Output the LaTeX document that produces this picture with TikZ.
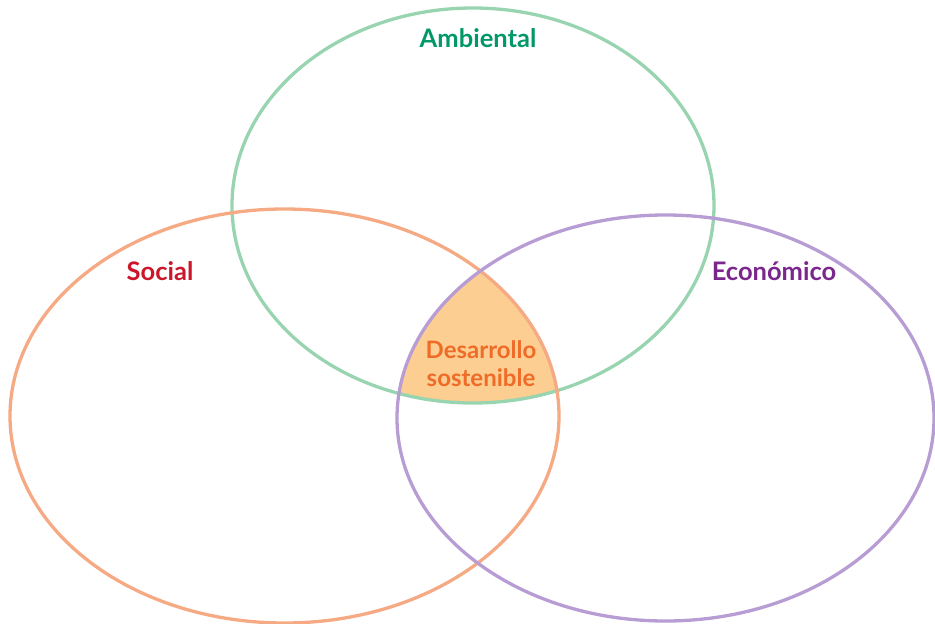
\documentclass[tikz,border=0pt]{standalone}
\usepackage{fontspec}
\setmainfont{Lato}
\usetikzlibrary{positioning}
\definecolor{ambline}{RGB}{152,212,176}
\definecolor{socline}{RGB}{246,170,132}
\definecolor{ecoline}{RGB}{184,156,212}
\definecolor{amb}{RGB}{0,152,104}
\definecolor{soc}{RGB}{204,22,42}
\definecolor{eco}{RGB}{122,38,140}
\definecolor{core}{RGB}{252,206,146}
\definecolor{coretext}{RGB}{238,108,40}
\begin{document}
\begin{tikzpicture}[x=1pt,y=-1pt, every node/.style={font=\bfseries\fontsize{25.5}{30}\selectfont}]
    \useasboundingbox (0,0) rectangle (935,624);
    % intersection of the three circles
    \begin{scope}
        \clip (473,205.5) ellipse [x radius=241, y radius=197.5];
        \clip (284.5,416) ellipse [x radius=274.5, y radius=207];
        \fill[core] (665.5,418) ellipse [x radius=268.5, y radius=203];
    \end{scope}
    \foreach \c/\x/\y/\rx/\ry in {ambline/473/205.5/241/197.5, socline/284.5/416/274.5/207, ecoline/665.5/418/268.5/203}{
        \draw[\c, line width=3.3pt] (\x,\y) ellipse [x radius=\rx, y radius=\ry];
    }
    \node[amb] (ambiental) at (478,38) {Ambiental};
    \node[soc] (social) at (160,271) {Social};
    \node[eco] (economico) at (774,271) {Económico};
    \node[coretext, align=center, font=\bfseries\fontsize{24}{28}\selectfont] (desarrollo) at (481,364) {Desarrollo\\sostenible};
\end{tikzpicture}
\end{document}
